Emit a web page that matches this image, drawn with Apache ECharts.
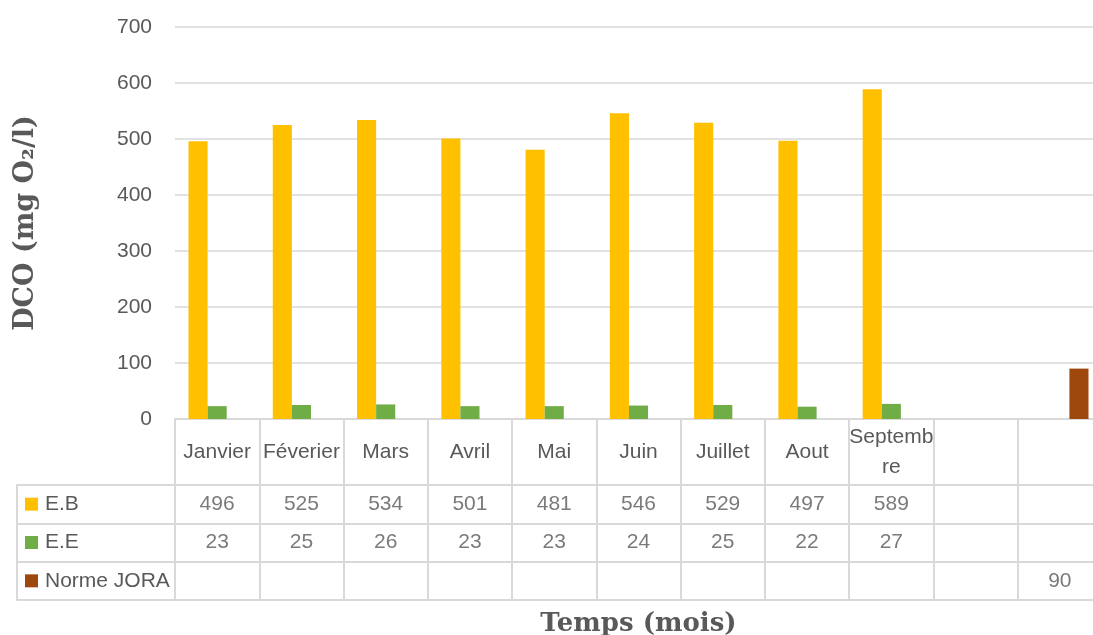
<!DOCTYPE html>
<html>
<head>
<meta charset="utf-8">
<script src="https://cdn.jsdelivr.net/npm/echarts@6/dist/echarts.min.js"></script>
<style>
  html, body { margin: 0; padding: 0; background: #ffffff; }
  #chart { width: 1093px; height: 635px; }
</style>
</head>
<body>
<div id="chart"></div>
<script>
// Months (two trailing empty slots hold the reference standard)
const categories = ['Janvier', 'Féverier', 'Mars', 'Avril', 'Mai', 'Juin', 'Juillet', 'Aout', 'Septembre', '', ' '];
const seriesNames = ['E.B', 'E.E', 'Norme JORA'];
const valuesEB = [496, 525, 534, 501, 481, 546, 529, 497, 589, null, null];
const valuesEE = [23, 25, 26, 23, 23, 24, 25, 22, 27, null, null];
const valuesJORA = [null, null, null, null, null, null, null, null, null, null, 90];
const yTicks = { min: 0, max: 700, interval: 100 };
const colors = ['#FFC000', '#70AD47', '#9E480E'];

const textColor = '#595959';
const lineColor = '#D9D9D9';
const font = 'Liberation Sans';
const labelSize = 21;

const allValues = [valuesEB, valuesEE, valuesJORA];

// Cells of the data table below the plot: [category index, row index, value]
const tableCells = [];
allValues.forEach(function (vals, row) {
  vals.forEach(function (v, col) {
    if (v !== null) tableCells.push([col, row, v]);
  });
});

// Break a category name character by character so that it fits in its table cell
const measureCtx = document.createElement('canvas').getContext('2d');
measureCtx.font = labelSize + 'px "' + font + '"';
function wrapToCell(name, maxWidth) {
  const lines = [];
  let cur = '';
  for (const ch of name) {
    if (cur && measureCtx.measureText(cur + ch).width > maxWidth) {
      lines.push(cur);
      cur = ch;
    } else {
      cur += ch;
    }
  }
  lines.push(cur);
  return lines.join('\n');
}

const legendRich = { t: { fontFamily: font, fontSize: labelSize, color: textColor, padding: [0, 0, 0, 7] } };
colors.forEach(function (c, i) {
  legendRich['k' + i] = { backgroundColor: c, width: 13, height: 13 };
});

const chart = echarts.init(document.getElementById('chart'), null, { renderer: 'canvas' });

chart.setOption({
  backgroundColor: '#ffffff',
  animation: false,
  color: colors,
  grid: [
    // plot area
    { left: 175, right: -9, top: 27, height: 392, outerBoundsMode: 'none', containLabel: false },
    // data table body
    { left: 175, right: -9, top: 485, height: 115, outerBoundsMode: 'none', containLabel: false },
    // data table row headers
    { left: 17, width: 158, top: 485, height: 115, outerBoundsMode: 'none', containLabel: false }
  ],
  xAxis: [
    {
      gridIndex: 0,
      type: 'category',
      data: categories,
      name: 'Temps (mois)',
      nameLocation: 'middle',
      nameGap: 192,
      nameTextStyle: { fontFamily: 'DejaVu Serif', fontWeight: 'bold', fontSize: 26, color: textColor, verticalAlign: 'top' },
      axisLine: { lineStyle: { color: lineColor, width: 2 } },
      axisTick: { show: true, length: 66, interval: 0, lineStyle: { color: lineColor, width: 2 } },
      axisLabel: {
        interval: 0, margin: 33, verticalAlign: 'middle', hideOverlap: false,
        fontFamily: font, fontSize: labelSize, color: textColor, lineHeight: 30,
        formatter: function (name) { return wrapToCell(name, 86); }
      }
    },
    {
      gridIndex: 1,
      type: 'category',
      data: categories,
      axisLine: { show: false },
      axisTick: { show: false },
      axisLabel: { show: false },
      splitLine: { show: true, interval: 0, lineStyle: { color: lineColor, width: 2 } }
    },
    { gridIndex: 2, type: 'value', show: false, min: 0, max: 1 }
  ],
  yAxis: [
    {
      gridIndex: 0,
      type: 'value',
      min: yTicks.min, max: yTicks.max, interval: yTicks.interval,
      name: 'DCO (mg O₂/l)',
      nameLocation: 'middle',
      nameGap: 136,
      nameRotate: 90,
      nameTextStyle: { fontFamily: 'DejaVu Serif', fontWeight: 'bold', fontSize: 27, color: textColor },
      axisLine: { show: false },
      axisTick: { show: false },
      axisLabel: { margin: 23, fontFamily: font, fontSize: labelSize, color: textColor },
      splitLine: { show: true, lineStyle: { color: lineColor, width: 1.5 } }
    },
    {
      gridIndex: 1,
      type: 'category',
      inverse: true,
      data: seriesNames,
      axisLine: { show: false },
      axisTick: { show: false },
      axisLabel: { show: false },
      splitLine: { show: true, interval: 0, lineStyle: { color: lineColor, width: 2 } }
    },
    {
      gridIndex: 2,
      type: 'category',
      inverse: true,
      data: seriesNames,
      axisLine: { show: true, lineStyle: { color: lineColor, width: 2 } },
      axisTick: { show: false },
      axisLabel: {
        inside: true, margin: 8, align: 'left', interval: 0,
        formatter: function (name, idx) { return '{k' + idx + '|}{t|' + name + '}'; },
        rich: legendRich
      },
      splitLine: { show: true, interval: 0, lineStyle: { color: lineColor, width: 2 } }
    }
  ],
  series: [
    { name: seriesNames[0], type: 'bar', xAxisIndex: 0, yAxisIndex: 0, data: valuesEB, barGap: '0%', barCategoryGap: '32%' },
    { name: seriesNames[1], type: 'bar', xAxisIndex: 0, yAxisIndex: 0, data: valuesEE, barGap: '0%', barCategoryGap: '32%' },
    { name: seriesNames[2], type: 'bar', xAxisIndex: 0, yAxisIndex: 0, data: valuesJORA, barGap: '0%', barCategoryGap: '32%' },
    {
      name: 'table',
      type: 'scatter',
      xAxisIndex: 1,
      yAxisIndex: 1,
      symbolSize: 1,
      itemStyle: { color: 'rgba(0,0,0,0)' },
      silent: true,
      data: tableCells,
      label: {
        show: true, position: 'inside',
        fontFamily: font, fontSize: labelSize, color: textColor,
        formatter: function (p) { return String(p.value[2]); }
      },
      labelLayout: { hideOverlap: false }
    }
  ]
});
</script>
</body>
</html>
